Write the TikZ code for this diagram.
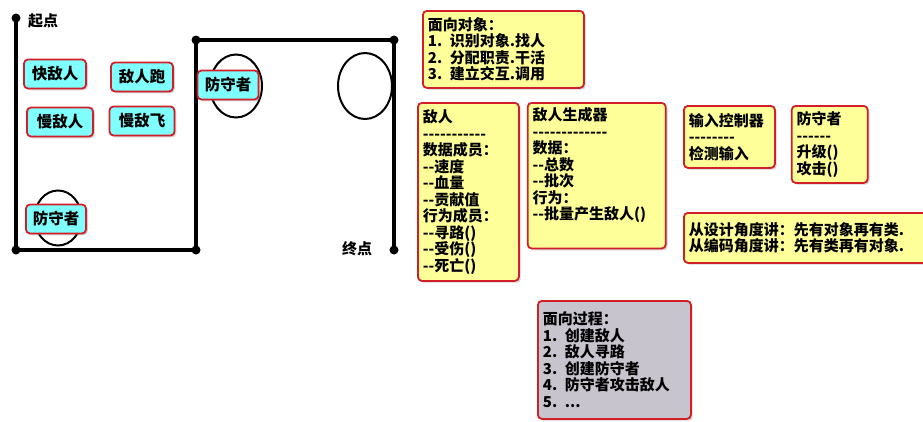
\documentclass[tikz,border=0pt]{standalone}
\usepackage{fontspec}
\newfontfamily\cjk{Noto Sans CJK SC}
\usetikzlibrary{positioning,shapes.geometric,shadows}

\definecolor{tagcyan}{RGB}{128,255,255}
\definecolor{noteyellow}{RGB}{255,255,153}
\definecolor{notegray}{RGB}{200,196,206}
\definecolor{boxred}{RGB}{210,30,40}

\begin{document}
\begin{tikzpicture}[
  x=1pt, y=-1pt,
  basebox/.style={
    rectangle, rounded corners=4pt,
    draw=boxred, line width=1.8pt,
    drop shadow={shadow xshift=1.8pt, shadow yshift=-1.8pt, opacity=0.35},
  },
  tagbox/.style={basebox, fill=tagcyan,
    minimum height=29pt, inner sep=3pt,
    font=\cjk\bfseries\fontsize{15.5}{17}\selectfont,
  },
  notebox/.style={basebox, fill=noteyellow,
    anchor=north west, align=left, inner sep=5pt,
    font=\cjk\bfseries\fontsize{15}{16.5}\selectfont,
  },
  procbox/.style={notebox, fill=notegray},
  ring/.style={ellipse, draw=black, line width=2pt, inner sep=0pt},
  route/.style={draw=black, line width=3.2pt, line join=round},
  spot/.style={circle, fill=black, minimum size=9pt, inner sep=0pt},
  pointlabel/.style={font=\cjk\bfseries\fontsize{15}{17}\selectfont},
]
\useasboundingbox (0,0) rectangle (923,421);

%---------- route of the enemies ----------
\coordinate (start) at (16,18);
\coordinate (c1) at (16,250);
\coordinate (c2) at (196,250);
\coordinate (c3) at (196,40);
\coordinate (c4) at (394,40);
\coordinate (finish) at (394,250);
\draw[route] (start) -- (c1) -- (c2) -- (c3) -- (c4) -- (finish);
\foreach \p in {start,c1,c2,c3,c4,finish}{
  \node[spot] (dot-\p) at (\p) {};
}
\node[pointlabel] (startlbl) at (43,21) {起点};
\node[pointlabel] (endlbl) at (357,249) {终点};

%---------- defender rings ----------
\node[ring, minimum width=47pt, minimum height=55pt] (ringA) at (58,218) {};
\node[ring, minimum width=52pt, minimum height=63pt] (ringB) at (236,86) {};
\node[ring, minimum width=54pt, minimum height=66pt] (ringC) at (365,86) {};

%---------- enemies and defenders ----------
\node[tagbox, minimum width=62pt] (fast) at (55,74) {快敌人};
\node[tagbox, minimum width=62pt] (runner) at (142,77) {敌人跑};
\node[tagbox, minimum width=66pt] (slow) at (60,122) {慢敌人};
\node[tagbox, minimum width=65pt] (flyer) at (142,121) {慢敌飞};
\node[tagbox, minimum width=60pt] (guardA) at (56,219) {防守者};
\node[tagbox, minimum width=61pt] (guardB) at (228,85) {防守者};

%---------- notes ----------
\node[notebox, text width=151pt, minimum height=77pt] (oop) at (422,10)
  {面向对象：\\
   1. 识别对象.找人\\
   2. 分配职责.干活\\
   3. 建立交互.调用};
\node[notebox, text width=91pt, minimum height=178pt] (enemy) at (417,102)
  {敌人\\
   -----------\\
   数据成员：\\
   --速度\\
   --血量\\
   --贡献值\\
   行为成员：\\
   --寻路()\\
   --受伤()\\
   --死亡()};
\node[notebox, text width=128pt,
      right=7pt of enemy.north east, anchor=north west] (spawner)
  {敌人生成器\\
   -------------\\
   数据：\\
   --总数\\
   --批次\\
   行为：\\
   --批量产生敌人()\\[7pt]
   \mbox{}};
\node[notebox, text width=81pt, minimum height=62pt] (input) at (683,105)
  {输入控制器\\
   --------\\
   检测输入};
\node[notebox, text width=236pt, minimum height=50pt] (view) at (683,212)
  {从设计角度讲：先有对象再有类.\\
   从编码角度讲：先有类再有对象.};
\node[notebox, text width=66pt, minimum height=77pt,
      right=15pt of input.north east, anchor=north west] (guard)
  {防守者\\
   ------\\
   升级()\\
   攻击()};
\node[procbox, text width=143pt, minimum height=118pt] (proc) at (537,300)
  {面向过程：\\
   1. 创建敌人\\
   2. 敌人寻路\\
   3. 创建防守者\\
   4. 防守者攻击敌人\\
   5. ...};

\end{tikzpicture}
\end{document}
